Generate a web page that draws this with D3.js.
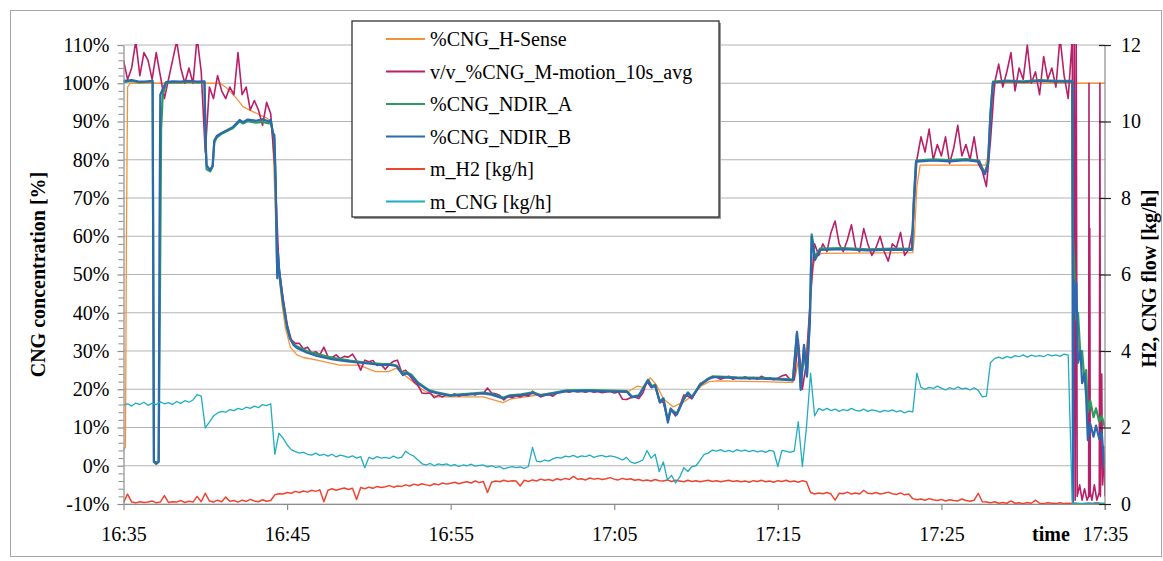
<!DOCTYPE html>
<html>
<head>
<meta charset="utf-8">
<script src="https://cdn.jsdelivr.net/npm/d3@7"></script>
<style>
  body { margin: 0; background: #fff; }
  svg { display: block; font-family: "Liberation Serif", "Times New Roman", serif; }
</style>
</head>
<body>
<svg id="chart" width="1163" height="561"></svg>
<script>
// time axis in minutes after 16:35
const timeTicks = [0, 10, 20, 30, 40, 50, 60];
const timeLabels = ["16:35", "16:45", "16:55", "17:05", "17:15", "17:25", "17:35"];
const pctTicks = [-10, 0, 10, 20, 30, 40, 50, 60, 70, 80, 90, 100, 110];
const flowTicks = [0, 2, 4, 6, 8, 10, 12];
const sampleStep = 0.25; // minutes between samples of the uniform arrays below

// %CNG_H-Sense  [minute, %]
const hSense = [[0,4],[0.12,5],[0.18,60],[0.25,99],[0.4,100],[5.9,100],[6.3,98.8],[6.9,96.1],[7.3,93.9],[7.9,92.6],
  [8.75,90.9],[9.05,90],[9.18,80],[9.3,64],[9.5,50],[9.7,42],[9.9,36],[10.2,31],[10.6,29],[11.0,28.3],[11.83,27.6],
  [13.2,26.3],[14.4,26.3],[15.4,24.6],[16.2,24.6],[16.7,25.5],[17.1,24.0],[17.5,22.6],[18.3,19.8],[19.16,18.0],
  [22.0,18.0],[23.2,16.5],[23.7,17.5],[25.0,18.3],[27.1,19.6],[30.17,19.6],[30.8,19.2],[31.4,20.8],[31.8,20.5],
  [32.2,23.0],[32.6,21.0],[33.0,17.5],[33.59,15.4],[34.0,16.2],[34.3,16.8],[34.8,18.5],[35.3,20.8],[35.8,22.0],
  [36.3,22.2],[38.9,22.0],[40.5,21.8],[40.92,21.8],[41.1,24],[41.3,28.5],[41.5,25],[41.75,30],[41.95,40],[42.15,52],
  [42.35,55],[42.7,55.5],[48.25,55.7],[48.35,60],[48.5,73],[48.7,78.6],[52.7,78.6],[52.9,82],[53.1,95],[53.3,100],[60,100]];

// %CNG_NDIR_A  [minute, %]
const ndirA = [[0,100.3],[0.5,100.6],[1.0,100.2],[1.5,100.4],[1.78,100.4],[1.82,50],[1.86,1.2],[2.0,0.8],[2.15,1.2],
  [2.22,40],[2.3,88],[2.4,97],[2.6,100.0],[3.0,100.3],[3.5,100.2],[4.0,100.4],[4.5,100.2],[4.95,100.3],[5.02,84],
  [5.08,77.5],[5.3,77],[5.45,78.2],[5.55,84.5],[5.7,85.8],[6.0,86.8],[6.7,88.3],[7.1,90.0],[7.3,89.5],[7.6,90.1],
  [8.1,89.7],[8.5,89.9],[8.9,89.5],[9.0,89.8],[9.12,87.5],[9.22,85.5],[9.3,74],[9.36,58],[9.4,50],[9.44,55],[9.5,51],
  [9.6,47.5],[9.75,42.5],[10.0,36],[10.18,33.2],[10.4,31.8],[10.6,31.2],[11.2,30],[11.83,29.2],[12.8,28.2],
  [13.84,27.5],[14.8,27],[15.86,26.6],[16.3,26.6],[16.7,26.2],[17.08,24],[17.3,24.5],[17.6,23.8],[18.0,21.8],
  [18.3,20.9],[18.7,19.7],[19.16,19.2],[19.96,18.5],[21.0,18.8],[21.97,19.1],[22.5,18.8],[23.2,17.8],[23.6,18.4],
  [24.3,18.7],[25.03,19.2],[25.5,18.5],[26.2,19.0],[27.1,19.7],[28.5,19.8],[30.17,19.6],[30.78,19.5],[31.08,18.1],
  [31.5,18.4],[32.06,22.5],[32.3,20.8],[32.5,21.2],[32.79,16.8],[33.0,17.7],[33.28,11.8],[33.45,15],[33.6,14.3],
  [33.83,13.7],[34.2,17.2],[34.5,19.2],[34.75,18],[35.24,21.2],[35.67,22.6],[36.03,23.4],[37.5,23.1],[38.9,23],
  [40.0,22.8],[40.92,22.5],[41.17,34.5],[41.3,28],[41.4,20.2],[41.6,31],[41.78,23.6],[41.96,38.5],[42.07,60.5],
  [42.27,54.5],[42.58,56.8],[44,56.9],[45.5,56.6],[47,56.8],[48.2,56.7],[48.3,68.5],[48.45,79.8],[49.5,80.1],
  [50.5,79.9],[51.5,80.2],[52.3,79.8],[52.5,77.8],[52.66,76.6],[52.85,79.3],[53.0,92.5],[53.15,100.4],[54,100.7],
  [55,100.5],[56,100.8],[57,100.6],[58.0,100.6],[58.04,60],[58.12,52],[58.25,38],[58.35,40],[58.5,28.4],[58.6,30],
  [58.75,22],[58.85,25],[58.95,14],[59.1,17],[59.3,12.7],[59.45,15],[59.65,11.5],[59.8,13],[60,10]];

// %CNG_NDIR_B  [minute, %]
const ndirB = [[0,100.6],[0.5,100.8],[1.0,100.4],[1.5,100.5],[1.78,100.6],[1.82,50],[1.86,1.0],[2.0,0.5],[2.15,1.0],
  [2.2,60],[2.25,97],[2.4,98.5],[2.6,100.3],[3.0,100.5],[3.5,100.4],[4.0,100.6],[4.5,100.4],[4.95,100.5],[5.02,85],
  [5.08,78.5],[5.3,77.3],[5.45,78.5],[5.55,85],[5.7,86.2],[6.0,87],[6.7,88.6],[7.1,90.4],[7.3,89.8],[7.6,90.5],
  [8.1,90.2],[8.5,90.6],[8.9,90.0],[9.0,90.5],[9.12,87],[9.22,86.5],[9.3,75],[9.36,60],[9.4,49],[9.44,56],[9.5,52],
  [9.6,48],[9.75,43],[10.0,36.5],[10.18,33.4],[10.4,31.5],[10.6,30.8],[11.2,29.6],[11.83,28.7],[12.8,27.8],
  [13.84,27.2],[14.8,26.8],[15.86,26.3],[16.3,26.4],[16.7,26.0],[17.08,23.7],[17.3,24.2],[17.6,23.5],[18.0,21.5],
  [18.3,20.7],[18.7,19.5],[19.16,19.0],[19.96,18.3],[21.0,18.6],[21.97,18.9],[22.5,18.6],[23.2,17.6],[23.6,18.2],
  [24.3,18.5],[25.03,19.0],[25.5,18.3],[26.2,18.8],[27.1,19.5],[28.5,19.6],[30.17,19.4],[30.78,19.3],[31.08,17.9],
  [31.5,18.2],[32.06,22.3],[32.3,20.5],[32.5,21.0],[32.79,16.5],[33.0,17.5],[33.28,11.3],[33.45,14.8],[33.6,14.0],
  [33.83,13.4],[34.2,17.0],[34.5,19.0],[34.75,17.8],[35.24,21.0],[35.67,22.4],[36.03,23.2],[37.5,22.9],[38.9,22.8],
  [40.0,22.6],[40.92,22.3],[41.17,35],[41.3,28],[41.4,19.8],[41.6,31.6],[41.78,23.3],[41.96,38],[42.07,59.9],
  [42.27,53.8],[42.58,56.4],[44,56.6],[45.5,56.3],[47,56.5],[48.2,56.4],[48.3,68],[48.45,79.5],[49.5,79.8],
  [50.5,79.6],[51.5,79.9],[52.3,79.5],[52.5,77.5],[52.66,76.2],[52.85,79],[53.0,92],[53.15,100.2],[54,100.5],
  [55,100.3],[56,100.6],[57,100.4],[58.0,100.5],[58.04,-9],[58.08,48.6],[58.15,40],[58.25,47.8],[58.35,26.9],
  [58.5,30],[58.6,21.6],[58.75,24],[58.85,18],[58.95,6.7],[59.1,11],[59.3,7.6],[59.45,10.5],[59.65,7.0],[59.8,9.0],
  [59.95,-0.5]];

// v/v_%CNG_M-motion_10s_avg, one value every 0.25 min from 0 to 58 [%]
const mMotion = [
  106,101,104,111, 102,108,106,101, 108,102,96,101, 106,111,104,100, 104,100,112,103,
  82,99,96,102, 98,96,99,97, 108,97,99,93, 95.5,93,89,95, 92,78,52,44,
  37,33,32,32, 30.5,31,29.5,29.8, 29,31,28.5,28.3, 29,28,28.6,28.4, 29.2,27.5,25,27.6,
  27.2,27.5,26.2,26.5, 25.2,26.5,27.3,27.6, 24.5,25,23.5,22, 21,19,18.9,19, 17.8,18.4,18,18.6,
  18.3,18.8,18.2,18.6, 18.5,18.9,18.5,19, 18.9,20.3,19,18.8, 18.4,17.2,18.2,17.8, 18.3,18,18.5,18.2,
  19.5,18.7,18,18.4, 18.6,18.2,19,19.4, 19.5,19.2,19.6,19.3, 19.5,19.2,19.6,19.2, 19.4,19.1,19.3,19.5,
  19,19.3,17.4,17.3, 17.8,18,17.6,19, 22,20.5,20.8,17, 16.5,12.5,14.5,13, 15.5,18.5,18.2,17.5,
  19.5,21.5,22,22.8, 23,23.2,22.6,23, 23.4,22.6,23,22.8, 23.3,22.7,23.1,22.6, 23.4,22.8,23,22.5,
  22.9,23.5,23.8,22.5, 22.4,33,20,27, 45,58,55,58, 56,61,64,58, 56,59,63,57,
  56,62,58,55, 57,60,56,53.5, 58,57,61,55, 56.5,62,80,86, 82,88,80,84,
  81,86,79,83, 89,81,84,80, 86,79,77,73, 85,100,105,99, 103,108,98,104,
  101,110,100,103, 97,107,101,104, 99,112,102,96, 112];
// M-motion after the gas supply stops [minute, %]
const mMotionTail = [[58.06,-10],[58.12,112],[58.18,-9],[58.24,112],[58.3,-8],[58.45,-5],[58.6,-9],[58.75,-6],
  [58.9,-9],[59.0,-8],[59.02,100],[59.05,-8],[59.07,62],[59.1,-7],[59.2,-9],[59.35,-5],[59.5,-9],[59.65,-7],
  [59.69,100],[59.72,-8],[59.8,24],[59.85,-5],[59.92,5],[60,-8]];

// m_H2, one value every 0.25 min from 0 to 60 [kg/h]
const h2Flow = [
  0.04,0.26,0.05,0.03, 0.06,0.04,0.05,0.08, 0.03,0.05,0.22,0.04, 0.06,0.05,0.09,0.04, 0.07,0.05,0.2,0.06,
  0.28,0.08,0.05,0.1, 0.06,0.18,0.07,0.09, 0.05,0.1,0.07,0.12, 0.08,0.06,0.11,0.07, 0.09,0.24,0.27,0.26,
  0.3,0.28,0.33,0.3, 0.34,0.31,0.36,0.33, 0.37,0.06,0.36,0.4, 0.36,0.39,0.42,0.38, 0.41,0.12,0.43,0.4,
  0.44,0.41,0.46,0.43, 0.45,0.48,0.44,0.47, 0.46,0.5,0.47,0.52, 0.49,0.53,0.5,0.48, 0.53,0.5,0.55,0.52,
  0.54,0.57,0.53,0.56, 0.58,0.55,0.6,0.56, 0.59,0.3,0.57,0.6, 0.58,0.62,0.59,0.61, 0.6,0.47,0.62,0.59,
  0.63,0.6,0.65,0.62, 0.64,0.61,0.66,0.63, 0.67,0.64,0.72,0.65, 0.66,0.63,0.68,0.65, 0.67,0.64,0.66,0.69,
  0.65,0.63,0.67,0.64, 0.66,0.62,0.64,0.61, 0.63,0.6,0.64,0.61, 0.6,0.63,0.59,0.62, 0.6,0.58,0.62,0.59,
  0.61,0.58,0.6,0.62, 0.59,0.61,0.58,0.6, 0.62,0.59,0.61,0.58, 0.6,0.57,0.61,0.59, 0.62,0.58,0.6,0.57,
  0.61,0.59,0.62,0.58, 0.6,0.57,0.61,0.58, 0.3,0.26,0.29,0.27, 0.3,0.26,0.1,0.28, 0.27,0.31,0.26,0.29,
  0.26,0.36,0.28,0.27, 0.3,0.26,0.28,0.31, 0.27,0.25,0.29,0.24, 0.26,0.14,0.11,0.13, 0.1,0.14,0.11,0.09,
  0.12,0.08,0.11,0.09, 0.08,0.13,0.09,0.07, 0.1,0.28,0.06,0.05, 0.03,0.06,0.02,0.04, 0.02,0.08,0.02,0.03,
  0.01,0.04,0.02,0.1, 0.02,0.01,0.03,0.02, 0.01,0.03,0.01,0.02, 0.01,0,0.01,0, 0.01,0,0.01,0, 0];

// m_CNG, one value every 0.25 min from 0 to 60 [kg/h]
const cngFlow = [
  2.59,2.62,2.56,2.64, 2.6,2.66,2.58,2.63, 2.6,2.67,2.62,2.65, 2.6,2.68,2.63,2.7, 2.66,2.72,2.86,2.82,
  1.99,2.14,2.3,2.38, 2.42,2.4,2.47,2.44, 2.5,2.47,2.53,2.5, 2.56,2.52,2.6,2.57, 2.62,1.3,1.85,1.72,
  1.55,1.42,1.37,1.33, 1.35,1.3,1.28,1.33, 1.27,1.3,1.25,1.3, 1.23,1.28,1.25,1.22, 1.26,1.2,1.24,0.95,
  1.22,1.18,1.24,1.2, 1.22,1.19,1.25,1.2, 1.22,1.38,1.3,1.25, 1.15,1.05,1.02,1.06, 1.0,1.05,1.02,1.05,
  1.0,1.03,0.98,1.02, 1.0,1.04,0.99,1.01, 1.02,0.97,1.0,0.96, 0.98,0.92,0.95,0.98, 0.95,0.97,0.93,0.98,
  1.48,1.12,1.1,1.15, 1.12,1.18,1.22,1.2, 1.25,1.23,1.27,1.22, 1.26,1.24,1.28,1.22, 1.25,1.27,1.23,1.26,
  1.24,1.2,1.15,1.22, 1.1,1.06,1.1,1.15, 1.4,1.2,1.3,0.85, 1.1,0.63,0.75,0.55, 0.7,0.95,0.85,0.98,
  1.0,1.15,1.3,1.33, 1.41,1.38,1.42,1.37, 1.4,1.36,1.42,1.38, 1.41,1.37,1.4,1.36, 1.39,1.35,1.4,1.38,
  0.98,1.4,1.38,1.35, 1.38,2.15,0.98,2.0, 3.42,2.3,2.5,2.45, 2.5,2.44,2.48,2.42, 2.47,2.44,2.5,2.45,
  2.43,2.48,2.42,2.46, 2.44,2.4,2.45,2.42, 2.46,2.41,2.44,2.38, 2.43,2.41,3.42,3.05, 3.0,3.05,3.02,3.08,
  3.03,2.98,3.04,3.0, 3.06,3.01,3.03,2.98, 3.04,2.97,2.8,2.82, 3.7,3.8,3.84,3.8, 3.86,3.82,3.88,3.85,
  3.9,3.84,3.89,3.86, 3.88,3.85,3.91,3.87, 3.9,3.86,3.92,3.89, 0.02,0.03,0.01,0.02, 0.03,0.02,0.04,0.02, 0.02];

const W = 1163, H = 561;
const plot = { left: 123.5, right: 1105, top: 45, bottom: 504 };

const x = d3.scaleLinear().domain([0, 60]).range([plot.left, plot.right]);
const yL = d3.scaleLinear().domain([-10, 110]).range([plot.bottom, plot.top]);
const yR = d3.scaleLinear().domain([0, 12]).range([plot.bottom, plot.top]);

const uniform = arr => arr.map((v, i) => [i * sampleStep, v]);

const series = [
  { name: "%CNG_H-Sense", color: "#f4923a", width: 1.3, y: yL, pts: hSense },
  { name: "v/v_%CNG_M-motion_10s_avg", color: "#b91f68", width: 1.6, y: yL, pts: uniform(mMotion).concat(mMotionTail) },
  { name: "%CNG_NDIR_A", color: "#2f9a5e", width: 2.2, y: yL, pts: ndirA },
  { name: "%CNG_NDIR_B", color: "#2c69ae", width: 2.2, y: yL, pts: ndirB },
  { name: "m_H2 [kg/h]", color: "#ef4430", width: 1.5, y: yR, pts: uniform(h2Flow) },
  { name: "m_CNG [kg/h]", color: "#1fadc0", width: 1.3, y: yR, pts: uniform(cngFlow) }
];

const svg = d3.select("#chart");
svg.append("rect").attr("width", W).attr("height", H).attr("fill", "#fff");
// outer chart frame
svg.append("rect").attr("x", 10.5).attr("y", 10.5).attr("width", 1151).attr("height", 546)
  .attr("fill", "none").attr("stroke", "#a6a6a6");

// horizontal gridlines
svg.append("g").selectAll("line").data(pctTicks).join("line")
  .attr("x1", plot.left).attr("x2", plot.right)
  .attr("y1", d => yL(d)).attr("y2", d => yL(d))
  .attr("stroke", "#b4b4b4").attr("stroke-width", 1.2);

// data lines, clipped to the plot area
svg.append("clipPath").attr("id", "clip").append("rect")
  .attr("x", plot.left).attr("y", plot.top - 1)
  .attr("width", plot.right - plot.left).attr("height", plot.bottom - plot.top + 2);

const linesG = svg.append("g").attr("clip-path", "url(#clip)");
series.forEach(s => {
  const line = d3.line().x(d => x(d[0])).y(d => s.y(d[1]));
  linesG.append("path").datum(s.pts)
    .attr("d", line).attr("fill", "none")
    .attr("stroke", s.color).attr("stroke-width", s.width)
    .attr("stroke-linejoin", "round");
});

function styleAxis(g, lineColor) {
  g.select(".domain").attr("stroke", lineColor).attr("stroke-width", 1.2);
  g.selectAll(".tick line").attr("stroke", lineColor).attr("stroke-width", 1.2);
  g.selectAll(".tick text").attr("fill", "#000").style("font-size", "20px")
    .style("font-family", '"Liberation Serif", "Times New Roman", serif');
}

// bottom time axis
const gx = svg.append("g").attr("transform", `translate(0,${plot.bottom})`)
  .call(d3.axisBottom(x).tickValues(timeTicks).tickFormat((d, i) => timeLabels[i])
    .tickSizeInner(6).tickSizeOuter(0).tickPadding(17));
styleAxis(gx, "#8c8c8c");

// left axis with minor ticks every 2 %
const minorPct = d3.range(-10, 111, 2).filter(v => v % 10 !== 0);
svg.append("g").attr("transform", `translate(${plot.left},0)`)
  .call(d3.axisLeft(yL).tickValues(minorPct).tickSize(5).tickFormat(""))
  .call(g => g.select(".domain").remove())
  .selectAll("line").attr("stroke", "#8c8c8c");
const gl = svg.append("g").attr("transform", `translate(${plot.left},0)`)
  .call(d3.axisLeft(yL).tickValues(pctTicks).tickFormat(d => d + "%")
    .tickSizeInner(6).tickSizeOuter(0).tickPadding(8));
styleAxis(gl, "#8c8c8c");

// right axis, cross tick marks
const gr = svg.append("g").attr("transform", `translate(${plot.right},0)`)
  .call(d3.axisRight(yR).tickValues(flowTicks).tickSizeInner(6).tickSizeOuter(0).tickPadding(10));
styleAxis(gr, "#8c8c8c");
gr.selectAll(".tick line").attr("x1", -6).attr("x2", 6).attr("stroke", "#222");
gr.select(".domain").attr("d", `M0,${plot.top}V${plot.bottom + 6}`);

// axis titles
svg.append("text").attr("transform", `translate(45,${(plot.top + plot.bottom) / 2}) rotate(-90)`)
  .attr("text-anchor", "middle").style("font-size", "20px").style("font-weight", "bold")
  .text("CNG concentration [%]");
svg.append("text").attr("transform", `translate(1156,${(plot.top + plot.bottom) / 2 + 4}) rotate(-90)`)
  .attr("text-anchor", "middle").style("font-size", "20px").style("font-weight", "bold")
  .text("H2, CNG flow [kg/h]");
svg.append("text").attr("x", 1051).attr("y", 541)
  .attr("text-anchor", "middle").style("font-size", "20px").style("font-weight", "bold")
  .text("time");

// legend
const lg = svg.append("g").attr("transform", "translate(352,21)");
lg.append("rect").attr("x", 2).attr("y", 2).attr("width", 367).attr("height", 196).attr("fill", "#9a9a9a");
lg.append("rect").attr("width", 367).attr("height", 196)
  .attr("fill", "#fff").attr("stroke", "#222").attr("stroke-width", 1.2);
const items = lg.selectAll("g.item").data(series).join("g")
  .attr("class", "item").attr("transform", (d, i) => `translate(0,${18 + i * 32.5})`);
items.append("line").attr("x1", 34).attr("x2", 73)
  .attr("stroke", d => d.color).attr("stroke-width", 1.8);
items.append("text").attr("x", 78).attr("dy", "0.35em")
  .style("font-size", "20px").text(d => d.name);
</script>
</body>
</html>
